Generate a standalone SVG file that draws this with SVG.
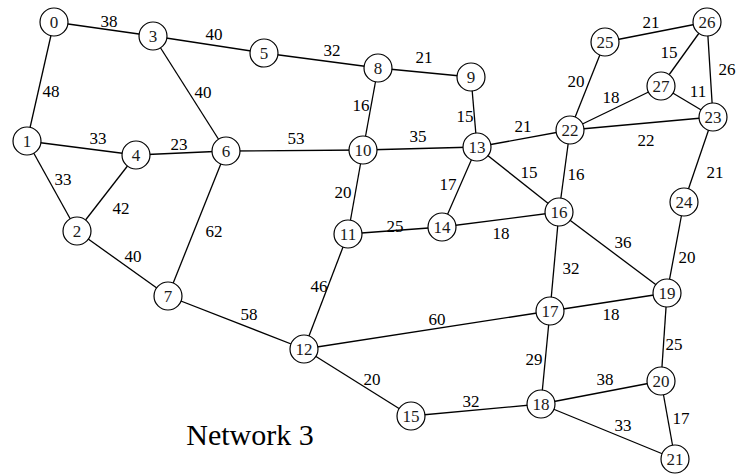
<svg xmlns="http://www.w3.org/2000/svg" width="740" height="476" viewBox="0 0 740 476" font-family="'Liberation Serif', 'Times New Roman', serif">
<style>
.e{stroke:#000;stroke-width:1.3;fill:none}
.n circle{fill:#fff;stroke:#000;stroke-width:1.2}
.n text{font-family:'Liberation Serif','Times New Roman',serif;font-size:17px;fill:#1a1a1a;text-anchor:middle}
.w{font-family:'Liberation Serif','Times New Roman',serif;font-size:17px;fill:#000;text-anchor:middle}
.t{font-family:'Liberation Serif','Times New Roman',serif;font-size:30px;fill:#000;text-anchor:middle}
</style>
<rect width="740" height="476" fill="#fff"/>
<g id="connectors">
<line class="e" x1="54" y1="22" x2="153" y2="36"/>
<line class="e" x1="54" y1="22" x2="27" y2="141"/>
<line class="e" x1="153" y1="36" x2="264" y2="53"/>
<line class="e" x1="153" y1="36" x2="226" y2="151"/>
<line class="e" x1="264" y1="53" x2="378" y2="68"/>
<line class="e" x1="378" y1="68" x2="471" y2="77"/>
<line class="e" x1="378" y1="68" x2="363" y2="150"/>
<line class="e" x1="471" y1="77" x2="477" y2="147"/>
<line class="e" x1="27" y1="141" x2="136" y2="155"/>
<line class="e" x1="136" y1="155" x2="226" y2="151"/>
<line class="e" x1="27" y1="141" x2="77" y2="231"/>
<line class="e" x1="77" y1="231" x2="136" y2="155"/>
<line class="e" x1="77" y1="231" x2="168" y2="296"/>
<line class="e" x1="226" y1="151" x2="168" y2="296"/>
<line class="e" x1="226" y1="151" x2="363" y2="150"/>
<line class="e" x1="363" y1="150" x2="477" y2="147"/>
<line class="e" x1="363" y1="150" x2="348" y2="234"/>
<line class="e" x1="477" y1="147" x2="570" y2="130"/>
<line class="e" x1="477" y1="147" x2="559" y2="212"/>
<line class="e" x1="477" y1="147" x2="442" y2="227"/>
<line class="e" x1="348" y1="234" x2="442" y2="227"/>
<line class="e" x1="442" y1="227" x2="559" y2="212"/>
<line class="e" x1="348" y1="234" x2="304" y2="349"/>
<line class="e" x1="168" y1="296" x2="304" y2="349"/>
<line class="e" x1="304" y1="349" x2="550" y2="311"/>
<line class="e" x1="304" y1="349" x2="411" y2="416"/>
<line class="e" x1="411" y1="416" x2="541" y2="404"/>
<line class="e" x1="559" y1="212" x2="570" y2="130"/>
<line class="e" x1="559" y1="212" x2="550" y2="311"/>
<line class="e" x1="559" y1="212" x2="667" y2="293"/>
<line class="e" x1="550" y1="311" x2="667" y2="293"/>
<line class="e" x1="550" y1="311" x2="541" y2="404"/>
<line class="e" x1="667" y1="293" x2="684" y2="202"/>
<line class="e" x1="684" y1="202" x2="713" y2="117"/>
<line class="e" x1="667" y1="293" x2="661" y2="381"/>
<line class="e" x1="541" y1="404" x2="661" y2="381"/>
<line class="e" x1="541" y1="404" x2="675" y2="459"/>
<line class="e" x1="661" y1="381" x2="675" y2="459"/>
<line class="e" x1="570" y1="130" x2="605" y2="42"/>
<line class="e" x1="570" y1="130" x2="661" y2="86"/>
<line class="e" x1="570" y1="130" x2="713" y2="117"/>
<line class="e" x1="605" y1="42" x2="707" y2="22"/>
<line class="e" x1="707" y1="22" x2="661" y2="86"/>
<line class="e" x1="707" y1="22" x2="713" y2="117"/>
<line class="e" x1="661" y1="86" x2="713" y2="117"/>
</g>
<g id="weights" font-family="'Liberation Serif', 'Times New Roman', serif">
<text class="w" x="109" y="27">38</text>
<text class="w" x="51" y="97">48</text>
<text class="w" x="214" y="40">40</text>
<text class="w" x="203" y="98">40</text>
<text class="w" x="332" y="56">32</text>
<text class="w" x="424" y="63">21</text>
<text class="w" x="361" y="111">16</text>
<text class="w" x="465" y="122">15</text>
<text class="w" x="98" y="144">33</text>
<text class="w" x="179" y="150">23</text>
<text class="w" x="63" y="185">33</text>
<text class="w" x="121" y="214">42</text>
<text class="w" x="133" y="262">40</text>
<text class="w" x="214" y="237">62</text>
<text class="w" x="296" y="144">53</text>
<text class="w" x="418" y="142">35</text>
<text class="w" x="343" y="198">20</text>
<text class="w" x="523" y="132">21</text>
<text class="w" x="529" y="178">15</text>
<text class="w" x="448" y="190">17</text>
<text class="w" x="395" y="232">25</text>
<text class="w" x="501" y="239">18</text>
<text class="w" x="319" y="292">46</text>
<text class="w" x="249" y="320">58</text>
<text class="w" x="437" y="325">60</text>
<text class="w" x="372" y="385">20</text>
<text class="w" x="471" y="407">32</text>
<text class="w" x="576" y="180">16</text>
<text class="w" x="571" y="274">32</text>
<text class="w" x="623" y="248">36</text>
<text class="w" x="611" y="320">18</text>
<text class="w" x="534" y="365">29</text>
<text class="w" x="687" y="263">20</text>
<text class="w" x="715" y="178">21</text>
<text class="w" x="674" y="350">25</text>
<text class="w" x="605" y="385">38</text>
<text class="w" x="623" y="431">33</text>
<text class="w" x="681" y="424">17</text>
<text class="w" x="576" y="87">20</text>
<text class="w" x="611" y="103">18</text>
<text class="w" x="646" y="146">22</text>
<text class="w" x="651" y="28">21</text>
<text class="w" x="669" y="58">15</text>
<text class="w" x="727" y="75">26</text>
<text class="w" x="698" y="97">11</text>
</g>
<g id="n0" class="n"><circle cx="54" cy="22" r="14"/><text x="54" y="28">0</text></g>
<g id="n1" class="n"><circle cx="27" cy="141" r="14"/><text x="27" y="147">1</text></g>
<g id="n2" class="n"><circle cx="77" cy="231" r="14"/><text x="77" y="237">2</text></g>
<g id="n3" class="n"><circle cx="153" cy="36" r="14"/><text x="153" y="42">3</text></g>
<g id="n4" class="n"><circle cx="136" cy="155" r="14"/><text x="136" y="161">4</text></g>
<g id="n5" class="n"><circle cx="264" cy="53" r="14"/><text x="264" y="59">5</text></g>
<g id="n6" class="n"><circle cx="226" cy="151" r="14"/><text x="226" y="157">6</text></g>
<g id="n7" class="n"><circle cx="168" cy="296" r="14"/><text x="168" y="302">7</text></g>
<g id="n8" class="n"><circle cx="378" cy="68" r="14"/><text x="378" y="74">8</text></g>
<g id="n9" class="n"><circle cx="471" cy="77" r="14"/><text x="471" y="83">9</text></g>
<g id="n10" class="n"><circle cx="363" cy="150" r="14"/><text x="363" y="156">10</text></g>
<g id="n11" class="n"><circle cx="348" cy="234" r="14"/><text x="348" y="240">11</text></g>
<g id="n12" class="n"><circle cx="304" cy="349" r="14"/><text x="304" y="355">12</text></g>
<g id="n13" class="n"><circle cx="477" cy="147" r="14"/><text x="477" y="153">13</text></g>
<g id="n14" class="n"><circle cx="442" cy="227" r="14"/><text x="442" y="233">14</text></g>
<g id="n15" class="n"><circle cx="411" cy="416" r="14"/><text x="411" y="422">15</text></g>
<g id="n16" class="n"><circle cx="559" cy="212" r="14"/><text x="559" y="218">16</text></g>
<g id="n17" class="n"><circle cx="550" cy="311" r="14"/><text x="550" y="317">17</text></g>
<g id="n18" class="n"><circle cx="541" cy="404" r="14"/><text x="541" y="410">18</text></g>
<g id="n19" class="n"><circle cx="667" cy="293" r="14"/><text x="667" y="299">19</text></g>
<g id="n20" class="n"><circle cx="661" cy="381" r="14"/><text x="661" y="387">20</text></g>
<g id="n21" class="n"><circle cx="675" cy="459" r="14"/><text x="675" y="465">21</text></g>
<g id="n22" class="n"><circle cx="570" cy="130" r="14"/><text x="570" y="136">22</text></g>
<g id="n23" class="n"><circle cx="713" cy="117" r="14"/><text x="713" y="123">23</text></g>
<g id="n24" class="n"><circle cx="684" cy="202" r="14"/><text x="684" y="208">24</text></g>
<g id="n25" class="n"><circle cx="605" cy="42" r="14"/><text x="605" y="48">25</text></g>
<g id="n26" class="n"><circle cx="707" cy="22" r="14"/><text x="707" y="28">26</text></g>
<g id="n27" class="n"><circle cx="661" cy="86" r="14"/><text x="661" y="92">27</text></g>
<text class="t" x="250" y="445">Network 3</text>
</svg>
